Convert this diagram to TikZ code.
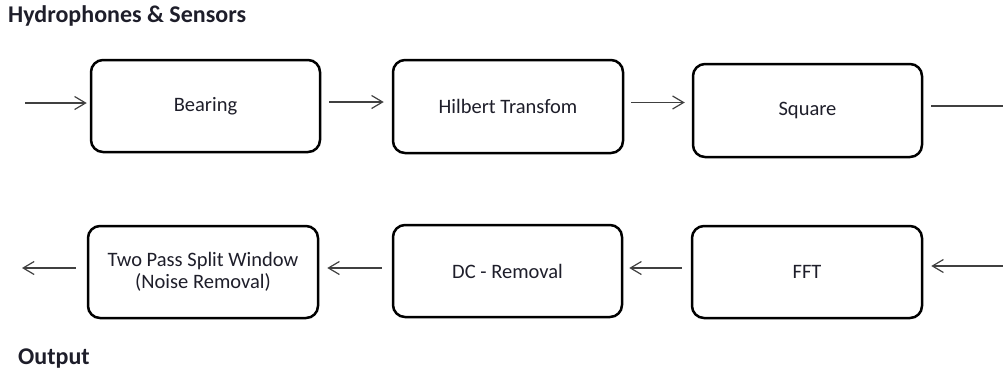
\documentclass[tikz,border=0pt]{standalone}
\usepackage{fontspec}
\setmainfont{Carlito}
\usetikzlibrary{arrows.meta}
\definecolor{ink}{HTML}{1E1E2A}
\definecolor{wire}{HTML}{404040}
\begin{document}
\begin{tikzpicture}[x=1pt,y=-1pt,
  stage/.style={draw=black, line width=2.5pt, rounded corners=12pt, fill=white,
    align=center, text=ink, font=\fontsize{20.5}{22}\selectfont, inner sep=0pt},
  flow/.style={draw=wire, line width=1.2pt,
    -{Straight Barb[length=11pt,width=13pt,line width=1.2pt]}},
  heading/.style={anchor=base west, text=ink, inner sep=0pt,
    font=\fontsize{24}{26}\selectfont\bfseries}]
  \useasboundingbox (0,0) rectangle (1003,370);

  % headings
  \node[heading] (src) at (8,22) {Hydrophones \& Sensors};
  \node[heading] (dst) at (18,364) {Output};

  % top row of processing stages
  \node[stage, minimum width=229pt, minimum height=92pt] (bearing) at (205.5,106) {Bearing};
  \node[stage, minimum width=230pt, minimum height=93pt] (hilbert) at (508,106.5) {Hilbert Transfom};
  \node[stage, minimum width=229pt, minimum height=93pt] (square)  at (807.5,110.5) {Square};

  % bottom row of processing stages
  \node[stage, minimum width=230pt, minimum height=92pt] (twopass) at (203,272) {Two Pass Split Window\\(Noise Removal)};
  \node[stage, minimum width=229pt, minimum height=92pt] (dcrem)   at (507.5,271) {DC - Removal};
  \node[stage, minimum width=230pt, minimum height=92pt] (fft)     at (807,272) {FFT};

  % free ends of the signal path
  \coordinate (in)     at (25,103);
  \coordinate (sqout)  at (1003,106);
  \coordinate (fftin)  at (1003,266);
  \coordinate (out)    at (22,268);

  % top row flow
  \draw[flow, shorten >=3pt] (in) -- (in -| bearing.west);
  \draw[flow, shorten <=8pt, shorten >=8pt] ([yshift=4pt]bearing.east) -- ([yshift=4pt]bearing.east -| hilbert.west);
  \draw[flow, shorten <=7pt, shorten >=7pt] ([yshift=4pt]hilbert.east) -- ([yshift=4pt]hilbert.east -| square.west);
  \draw[draw=wire, line width=1.2pt, shorten <=8pt] (sqout -| square.east) -- (sqout);

  % bottom row flow
  \draw[flow, shorten >=8pt] (fftin) -- (fftin -| fft.east);
  \draw[flow, shorten <=9pt, shorten >=6pt] ([yshift=4pt]fft.west) -- ([yshift=4pt]fft.west -| dcrem.east);
  \draw[flow, shorten <=10pt, shorten >=8pt] ([yshift=3pt]dcrem.west) -- ([yshift=3pt]dcrem.west -| twopass.east);
  \draw[flow, shorten <=11pt] (out -| twopass.west) -- (out);
\end{tikzpicture}
\end{document}
